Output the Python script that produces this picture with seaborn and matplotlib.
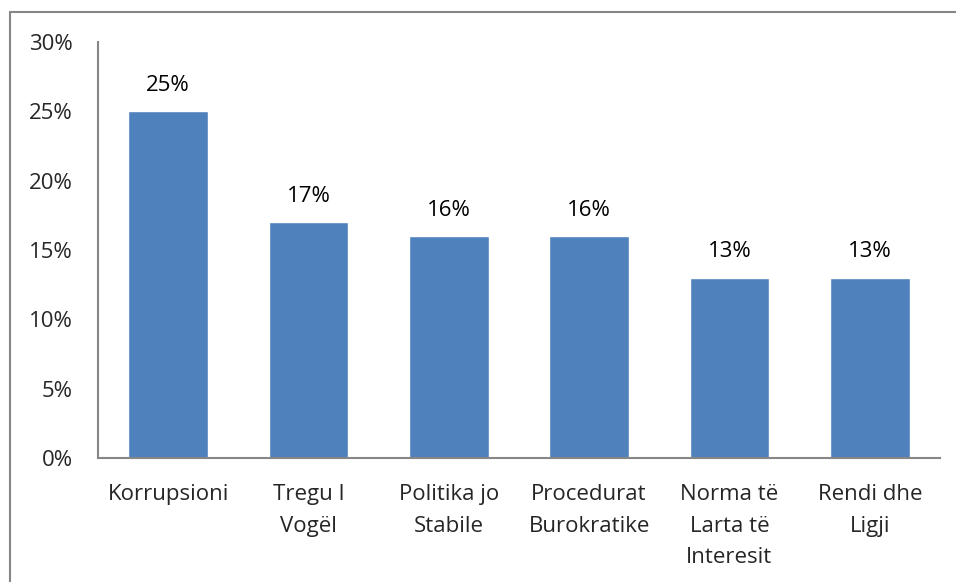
import matplotlib
matplotlib.use('Agg')
import matplotlib.pyplot as plt
from matplotlib.lines import Line2D
import seaborn as sns
import pandas as pd

categories = ['Korrupsioni', 'Tregu I\nVogël', 'Politika jo\nStabile',
              'Procedurat\nBurokratike', 'Norma të\nLarta të\nInteresit', 'Rendi dhe\nLigji']
values = [25, 17, 16, 16, 13, 13]
y_ticks = [0, 5, 10, 15, 20, 25, 30]

df = pd.DataFrame({'category': categories, 'value': values})

sns.set_style('white')
plt.rcParams['font.family'] = ['Open Sans', 'DejaVu Sans']
FS = 16

fig = plt.figure(figsize=(9.56, 5.82), dpi=100)
ax = fig.add_axes([98 / 956, 1 - 458 / 582, (940 - 98) / 956, (458 - 42) / 582])

sns.barplot(data=df, x='category', y='value', color='#4F81BD', saturation=1,
            width=0.57, ax=ax)

for i, v in enumerate(values):
    ax.text(i, v + 1.1, f'{v}%', ha='center', va='bottom', fontsize=FS, color='#000000')

ax.set_ylim(0, 30)
ax.set_xlim(-0.5, len(categories) - 0.5)
ax.set_yticks(y_ticks)
ax.set_yticklabels([f'{t}%' for t in y_ticks], fontsize=FS)
ax.set_xticks(range(len(categories)))
ax.set_xticklabels(categories, fontsize=FS, linespacing=1.65, va='top')
ax.tick_params(axis='y', length=0, pad=18)
ax.tick_params(axis='x', length=0, pad=19)
ax.set_xlabel('')
ax.set_ylabel('')

for side in ['top', 'right']:
    ax.spines[side].set_visible(False)
for side in ['left', 'bottom']:
    ax.spines[side].set_color('#868686')
    ax.spines[side].set_linewidth(1.5)

# outer chart border (top and left visible)
fig.add_artist(Line2D([9.5 / 956, 1], [1 - 11.5 / 582, 1 - 11.5 / 582],
                      transform=fig.transFigure, color='#868686', lw=1.5))
fig.add_artist(Line2D([9.5 / 956, 9.5 / 956], [0, 1 - 11.5 / 582],
                      transform=fig.transFigure, color='#868686', lw=1.5))

fig.savefig('out.png', dpi=100)
plt.close(fig)
